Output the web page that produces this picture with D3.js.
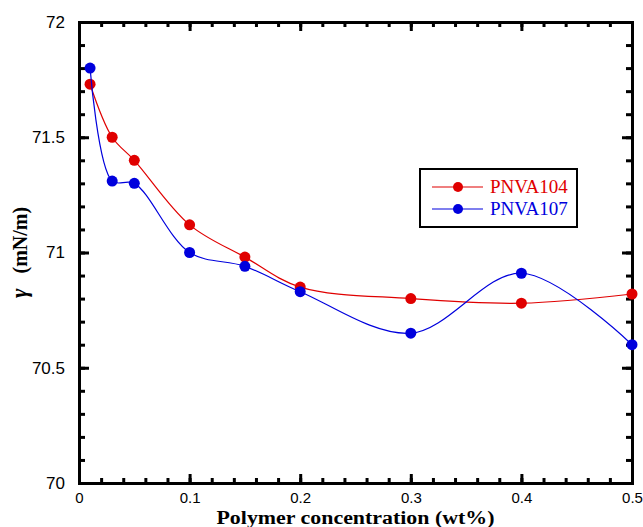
<!DOCTYPE html>
<html>
<head>
<meta charset="utf-8">
<script src="https://cdn.jsdelivr.net/npm/d3@7"></script>
<style>
  body { margin: 0; background: #fff; }
  svg { display: block; }
</style>
</head>
<body>
<svg id="chart"></svg>
<script>
/* DATA */
const concentrations = [0.01, 0.03, 0.05, 0.1, 0.15, 0.2, 0.3, 0.4, 0.5];
const pnva104 = [71.73, 71.5, 71.4, 71.12, 70.98, 70.85, 70.8, 70.78, 70.82];
const pnva107 = [71.8, 71.31, 71.3, 71.0, 70.94, 70.83, 70.65, 70.91, 70.6];
const xTickValues = [0, 0.1, 0.2, 0.3, 0.4, 0.5];
const yTickValues = [70, 70.5, 71, 71.5, 72];
const seriesNames = ["PNVA104", "PNVA107"];

/* CONSTANTS */
const width = 643, height = 527,
  margin = { top: 22, bottom: 44, left: 79, right: 11 };
const red = "#e00000", blue = "#0000dd";

const svg = d3.select("#chart")
  .attr("width", width)
  .attr("height", height);

const x = d3.scaleLinear().domain([0, 0.5]).range([margin.left, width - margin.right]);
const y = d3.scaleLinear().domain([70, 72]).range([height - margin.bottom, margin.top]);

// minor ticks
const xMinor = d3.range(0, 0.5001, 0.02);
const yMinor = d3.range(70, 72.001, 0.1);

const tickFont = "'Liberation Sans Narrow', 'Liberation Sans', Arial, sans-serif";
const serif = "'Liberation Serif', 'Times New Roman', serif";

// axes: all four sides, ticks point inward
function styleAxis(g) {
  g.select(".domain").attr("stroke", "#000").attr("stroke-width", 3);
  g.selectAll(".tick line").attr("stroke", "#000").attr("stroke-width", 3);
}

// bottom
svg.append("g")
  .attr("transform", `translate(0,${y(70)})`)
  .call(d3.axisBottom(x).tickValues(xMinor).tickSize(-5).tickFormat(""))
  .call(styleAxis);
svg.append("g")
  .attr("transform", `translate(0,${y(70)})`)
  .call(d3.axisBottom(x).tickValues(xTickValues).tickSize(-9).tickPadding(9)
    .tickFormat(d => d === 0 ? "0" : d3.format(".1f")(d)))
  .call(styleAxis)
  .call(g => g.selectAll("text").attr("font-family", tickFont).attr("font-size", 15).attr("fill", "#000"));

// top
svg.append("g")
  .attr("transform", `translate(0,${y(72)})`)
  .call(d3.axisTop(x).tickValues(xMinor).tickSize(-5).tickFormat(""))
  .call(styleAxis);
svg.append("g")
  .attr("transform", `translate(0,${y(72)})`)
  .call(d3.axisTop(x).tickValues(xTickValues).tickSize(-9).tickFormat(""))
  .call(styleAxis);

// left
svg.append("g")
  .attr("transform", `translate(${x(0)},0)`)
  .call(d3.axisLeft(y).tickValues(yMinor).tickSize(-6).tickFormat(""))
  .call(styleAxis);
svg.append("g")
  .attr("transform", `translate(${x(0)},0)`)
  .call(d3.axisLeft(y).tickValues(yTickValues).tickSize(-10).tickPadding(14)
    .tickFormat(d3.format("")))
  .call(styleAxis)
  .call(g => g.selectAll("text").attr("font-family", tickFont).attr("font-size", 17).attr("fill", "#000"));

// right
svg.append("g")
  .attr("transform", `translate(${x(0.5)},0)`)
  .call(d3.axisRight(y).tickValues(yMinor).tickSize(-6).tickFormat(""))
  .call(styleAxis);
svg.append("g")
  .attr("transform", `translate(${x(0.5)},0)`)
  .call(d3.axisRight(y).tickValues(yTickValues).tickSize(-10).tickFormat(""))
  .call(styleAxis);

// series
const series = [
  { name: seriesNames[0], values: pnva104, color: red },
  { name: seriesNames[1], values: pnva107, color: blue }
];

const line = d3.line()
  .x(d => x(d[0]))
  .y(d => y(d[1]))
  .curve(d3.curveCatmullRom.alpha(0.5));

series.forEach(s => {
  const pts = concentrations.map((c, i) => [c, s.values[i]]);
  svg.append("path")
    .datum(pts)
    .attr("d", line)
    .attr("fill", "none")
    .attr("stroke", s.color)
    .attr("stroke-width", 1.2);
  svg.append("g").selectAll("circle")
    .data(pts)
    .join("circle")
    .attr("cx", d => x(d[0]))
    .attr("cy", d => y(d[1]))
    .attr("r", 5.5)
    .attr("fill", s.color);
});

// legend
const legend = svg.append("g").attr("transform", "translate(420,169)");
legend.append("rect")
  .attr("width", 157).attr("height", 58)
  .attr("fill", "#fff").attr("stroke", "#000").attr("stroke-width", 2);
series.forEach((s, i) => {
  const ly = 18 + i * 22;
  legend.append("line")
    .attr("x1", 12).attr("x2", 63).attr("y1", ly).attr("y2", ly)
    .attr("stroke", s.color).attr("stroke-width", 1.2);
  legend.append("circle").attr("cx", 38).attr("cy", ly).attr("r", 5).attr("fill", s.color);
  legend.append("text")
    .attr("x", 70).attr("y", ly + 6)
    .attr("font-family", serif)
    .attr("font-size", 19)
    .attr("fill", s.color)
    .text(s.name);
});

// axis titles
svg.append("text")
  .attr("x", (x(0) + x(0.5)) / 2)
  .attr("y", 524)
  .attr("text-anchor", "middle")
  .attr("font-family", serif)
  .attr("font-weight", "bold")
  .attr("font-size", 18)
  .attr("textLength", 278)
  .attr("lengthAdjust", "spacingAndGlyphs")
  .text("Polymer concentration (wt%)");

const yTitle = svg.append("text")
  .attr("transform", `translate(27,${(y(70) + y(72)) / 2}) rotate(-90)`)
  .attr("text-anchor", "middle")
  .attr("font-family", serif)
  .attr("font-weight", "bold")
  .attr("font-size", 20);
yTitle.append("tspan").attr("font-style", "italic").attr("font-size", 23).text("γ");
yTitle.append("tspan").text("\u00a0\u00a0 (mN/m)");
</script>
</body>
</html>
